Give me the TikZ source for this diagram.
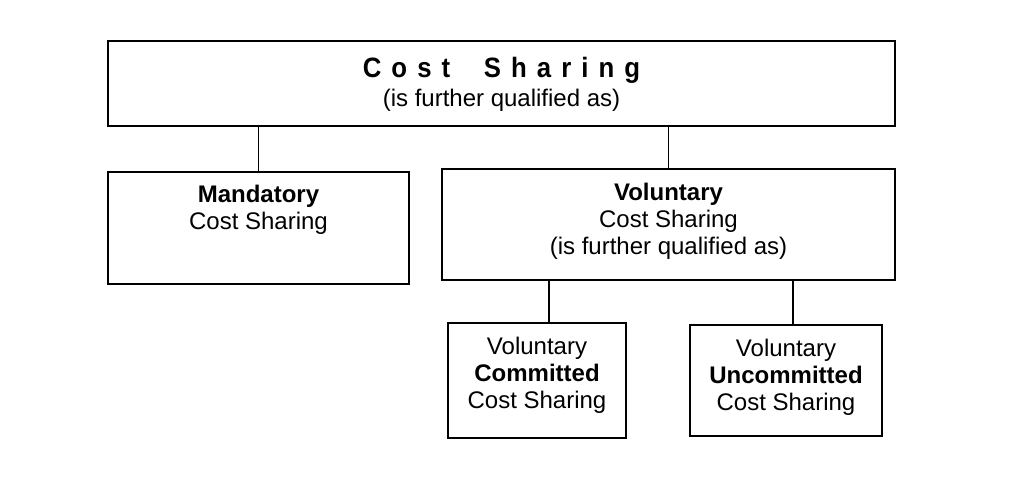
\documentclass[tikz,border=0pt]{standalone}
\usepackage{fontspec}
\setmainfont{Liberation Sans}
\newfontfamily\titlefont[LetterSpace=36,FakeStretch=0.92]{Liberation Sans}
\usetikzlibrary{positioning}

\begin{document}
\begin{tikzpicture}[x=0.5pt, y=-0.5pt,
    box/.style = {draw, line width = 0.8pt, shape = rectangle, anchor = north,
                  inner sep = 0pt, align = center, font = \fontsize{12}{13.5}\selectfont},
    link/.style = {line width = 0.8pt}]
\useasboundingbox (0,0) rectangle (1024,481);
\node[box, minimum width = 393.5pt, text height = 33pt, text depth = 9.5pt] (cost) at (501.5,40)
  {{\titlefont\fontsize{14}{14}\selectfont\bfseries Cost\hspace{1.2em}Sharing}\\[1pt](is further qualified as)};
\node[box, minimum width = 150.5pt, text height = 29pt, text depth = 27pt] (mand) at (258.5,171)
  {\textbf{Mandatory}\\Cost Sharing};
\node[box, minimum width = 226.5pt, text height = 43pt, text depth = 12.5pt] (vol) at (668.5,168)
  {\textbf{Voluntary}\\Cost Sharing\\(is further qualified as)};
\node[box, minimum width = 89pt, text height = 43pt, text depth = 14.5pt] (comm) at (537,322)
  {Voluntary\\\textbf{Committed}\\Cost Sharing};
\node[box, minimum width = 96pt, text height = 43pt, text depth = 12.5pt] (uncomm) at (786,324)
  {Voluntary\\\textbf{Uncommitted}\\Cost Sharing};
% connectors
\draw[link] (mand.north) -- (mand.north |- cost.south);
\draw[link] (vol.north) -- (vol.north |- cost.south);
\draw[link] ([xshift = 6pt]comm.north) -- ([xshift = 6pt]comm.north |- vol.south);
\draw[link] ([xshift = 3.5pt]uncomm.north) -- ([xshift = 3.5pt]uncomm.north |- vol.south);
\end{tikzpicture}
\end{document}
